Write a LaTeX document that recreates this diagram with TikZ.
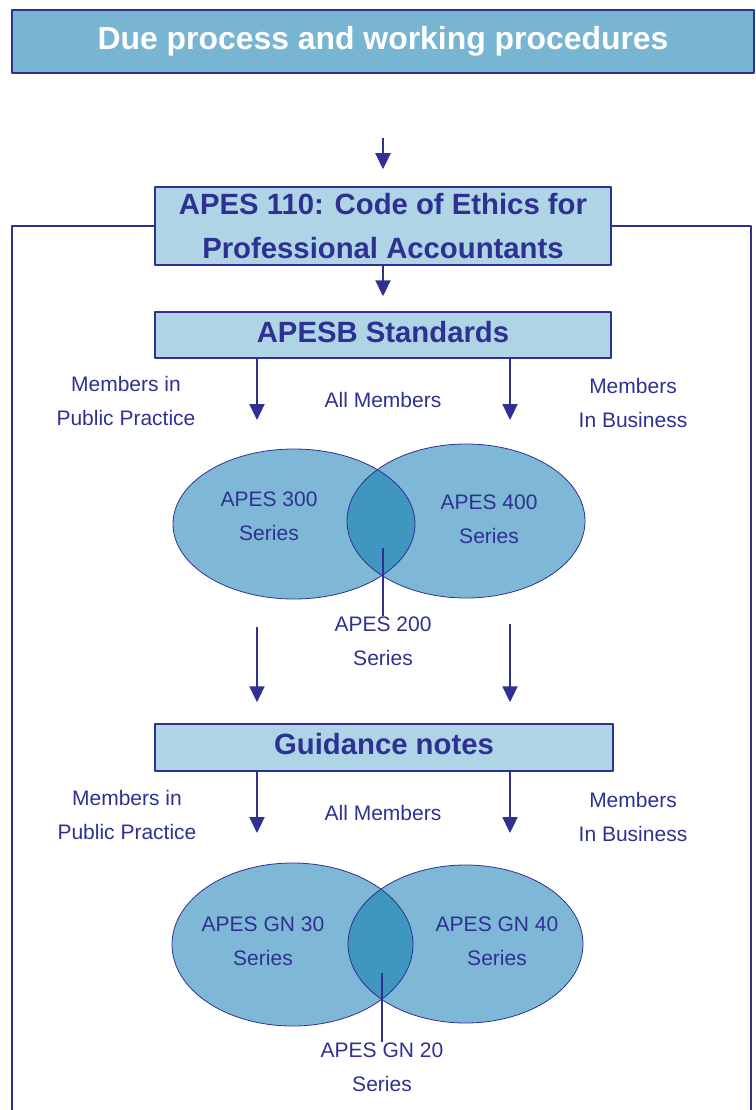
\documentclass[tikz,border=0pt]{standalone}
\usepackage{fontspec}
\setmainfont{Liberation Sans}
\usetikzlibrary{arrows.meta}
\definecolor{apesblue}{HTML}{2E3192}
\definecolor{titlefill}{HTML}{78B5D3}
\definecolor{boxfill}{HTML}{AED4E6}
\definecolor{vennfill}{HTML}{7FB8D6}
\definecolor{vennmid}{HTML}{3F97C0}
\tikzset{
  hdr/.style={draw=apesblue, fill=titlefill, line width=1.5pt, text=white, inner sep=0,
    font=\bfseries\fontsize{31.9}{38}\selectfont, minimum width=742pt, minimum height=63pt},
  stdbox/.style={draw=apesblue, fill=boxfill, line width=1.5pt, text=apesblue, inner sep=0,
    font=\bfseries\fontsize{29.3}{44}\selectfont, align=center, minimum width=456pt},
  lbl/.style={text=apesblue, font=\fontsize{21}{34}\selectfont, align=center, inner sep=0},
  arr/.style={draw=apesblue, line width=2.3pt, -{Triangle[length=16pt,width=15pt]}},
  rule/.style={draw=apesblue, line width=1.5pt},
  rim/.style={draw=apesblue, line width=0.8pt},
}
\begin{document}
\begin{tikzpicture}[x=1pt, y=-1pt, line join=round]
\useasboundingbox (0,0) rectangle (755,1110);

\node[hdr] (title) at (383,41.5) {\raisebox{2pt}{Due process and working procedures}};
\node[stdbox, minimum height=78pt] (code) at (383,226) {APES 110: Code of Ethics for\\Professional Accountants};
\node[stdbox, minimum height=46pt, text depth=0pt] (std) at (383,335) {\raisebox{7pt}{APESB Standards}};
\node[stdbox, minimum width=458pt, minimum height=47pt] (gn) at (384,747.5) {\raisebox{7pt}{Guidance notes}};

% outer frame
\coordinate (olL) at (12,1115);
\coordinate (olR) at (751,1115);
\draw[rule] (code.west) -| (olL);
\draw[rule] (code.east) -| (olR);

% labels, standards level
\node[lbl] (pp1) at (126,401) {Members in\\Public Practice};
\node[lbl] (all1) at (383,400) {All Members};
\node[lbl] (bus1) at (633,403) {Members\\In Business};

% venn, standards
\fill[vennfill] (294,524) ellipse [x radius=121pt, y radius=75pt];
\fill[vennfill] (466,521) ellipse [x radius=119pt, y radius=77pt];
\begin{scope}
  \clip (294,524) ellipse [x radius=121pt, y radius=75pt];
  \fill[vennmid] (466,521) ellipse [x radius=119pt, y radius=77pt];
\end{scope}
\draw[rim] (294,524) ellipse [x radius=121pt, y radius=75pt];
\draw[rim] (466,521) ellipse [x radius=119pt, y radius=77pt];
\node[lbl] (s300) at (269,516.5) {APES 300\\Series};
\node[lbl] (s400) at (489,519.5) {APES 400\\Series};
\node[lbl] (s200) at (383,641) {APES 200\\Series};

% labels, guidance level
\node[lbl] (pp2) at (127,814.5) {Members in\\Public Practice};
\node[lbl] (all2) at (383,813) {All Members};
\node[lbl] (bus2) at (633,816.5) {Members\\In Business};

% venn, guidance notes
\fill[vennfill] (292.5,944.5) ellipse [x radius=120.5pt, y radius=81.5pt];
\fill[vennfill] (465.5,944) ellipse [x radius=117.5pt, y radius=79pt];
\begin{scope}
  \clip (292.5,944.5) ellipse [x radius=120.5pt, y radius=81.5pt];
  \fill[vennmid] (465.5,944) ellipse [x radius=117.5pt, y radius=79pt];
\end{scope}
\draw[rim] (292.5,944.5) ellipse [x radius=120.5pt, y radius=81.5pt];
\draw[rim] (465.5,944) ellipse [x radius=117.5pt, y radius=79pt];
\node[lbl] (g30) at (263,941.5) {APES GN 30\\Series};
\node[lbl] (g40) at (497,941.5) {APES GN 40\\Series};
\node[lbl] (g20) at (382,1067) {APES GN 20\\Series};

% free ends
\coordinate (in) at (383,138);
\coordinate (a1) at (257,420);
\coordinate (a2) at (510,420);
\coordinate (b1) at (257,627);
\coordinate (b2) at (510,624);
\coordinate (c1) at (257,833);
\coordinate (c2) at (510,833);
\coordinate (m1) at (383,548);
\coordinate (m2) at (382,973);

\draw[arr, shorten >=17pt] (in) -- (code);
\draw[arr, shorten >=15pt] (code) -- (std);
\foreach \to in {a1,a2}
  \draw[arr] (std.south -| \to) -- (\to);
\foreach \from in {b1,b2}
  \draw[arr, shorten >=21pt] (\from) -- (\from |- gn.north);
\foreach \to in {c1,c2}
  \draw[arr] (gn.south -| \to) -- (\to);
\draw[rule, line width=2pt] (m1) -- (s200.north);
\draw[rule, line width=2pt] (m2) -- (g20.north);
\end{tikzpicture}
\end{document}
